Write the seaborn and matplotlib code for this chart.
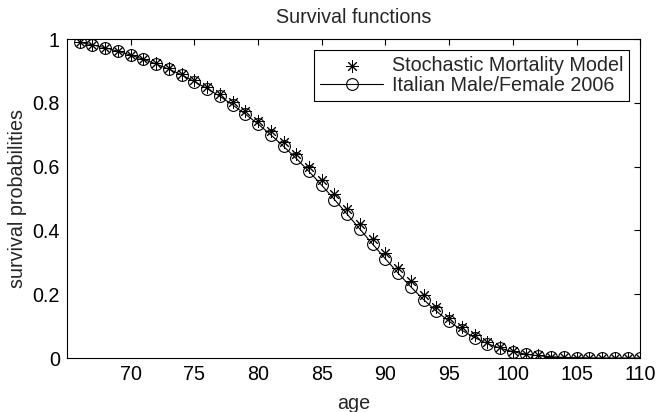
import numpy as np
import pandas as pd
import matplotlib
matplotlib.use("Agg")
import matplotlib.pyplot as plt
import seaborn as sns

ages = list(range(66, 111))

stochastic = [
    0.990, 0.982, 0.973, 0.963, 0.951, 0.938, 0.924, 0.909, 0.892, 0.872,
    0.851, 0.828, 0.802, 0.774, 0.744, 0.712, 0.677, 0.640, 0.600, 0.558,
    0.514, 0.468, 0.421, 0.374, 0.328, 0.283, 0.240, 0.199, 0.161, 0.127,
    0.097, 0.072, 0.051, 0.035, 0.023, 0.014, 0.008, 0.004, 0.002, 0.001,
    0.0005, 0.0002, 0.0001, 0.0, 0.0,
]

italian = [
    0.990, 0.982, 0.973, 0.962, 0.950, 0.937, 0.922, 0.906, 0.888, 0.867,
    0.845, 0.821, 0.794, 0.765, 0.734, 0.700, 0.664, 0.626, 0.585, 0.542,
    0.497, 0.451, 0.404, 0.357, 0.311, 0.266, 0.223, 0.183, 0.147, 0.115,
    0.087, 0.064, 0.045, 0.031, 0.020, 0.012, 0.007, 0.004, 0.002, 0.001,
    0.0005, 0.0002, 0.0001, 0.0, 0.0,
]

xticks = [70, 75, 80, 85, 90, 95, 100, 105, 110]
yticks = [0, 0.2, 0.4, 0.6, 0.8, 1]
ytick_labels = ["0", "0.2", "0.4", "0.6", "0.8", "1"]

df = pd.DataFrame({"age": ages, "stochastic": stochastic, "italian": italian})

sns.set_style("white")
plt.rcParams["font.family"] = ["Liberation Sans", "DejaVu Sans"]
FS = 14.2
plt.rcParams["font.size"] = FS

fig = plt.figure(figsize=(6.56, 4.12), dpi=100)
ax = fig.add_axes([0.102, 0.131, 0.874, 0.774])

# model estimates: asterisks only
sns.scatterplot(data=df, x="age", y="stochastic", ax=ax, color="black",
                marker=(8, 2, 0), s=70, linewidth=0.7,
                label="Stochastic Mortality Model", zorder=3)
# life table: solid line with open circles
sns.lineplot(data=df, x="age", y="italian", ax=ax, color="black",
             linewidth=0.8, marker="o", markersize=8.5, markerfacecolor="none",
             markeredgecolor="black", markeredgewidth=0.8,
             label="Italian Male/Female 2006", zorder=2)

ax.set_xlim(65, 110)
ax.set_ylim(0, 1)
ax.set_xticks(xticks)
ax.set_yticks(yticks)
ax.set_yticklabels(ytick_labels)
ax.tick_params(direction="in", length=4, width=0.8, top=True, right=True,
               labelsize=FS, colors="black", pad=5)
for s in ax.spines.values():
    s.set_visible(True)
    s.set_color("black")
    s.set_linewidth(0.8)

ax.set_xlabel("age", fontsize=FS, labelpad=7)
ax.set_ylabel("survival probabilities", fontsize=FS, labelpad=4)
ax.set_title("Survival functions", fontsize=FS, pad=11.5)

leg = ax.legend(loc="upper right", fontsize=FS, frameon=True, fancybox=False,
                edgecolor="black", framealpha=1, borderpad=0.3,
                handlelength=3.2, handletextpad=0.45, labelspacing=0.05,
                borderaxespad=0.55)
leg.get_frame().set_linewidth(0.8)

fig.savefig("out.png", dpi=100)
